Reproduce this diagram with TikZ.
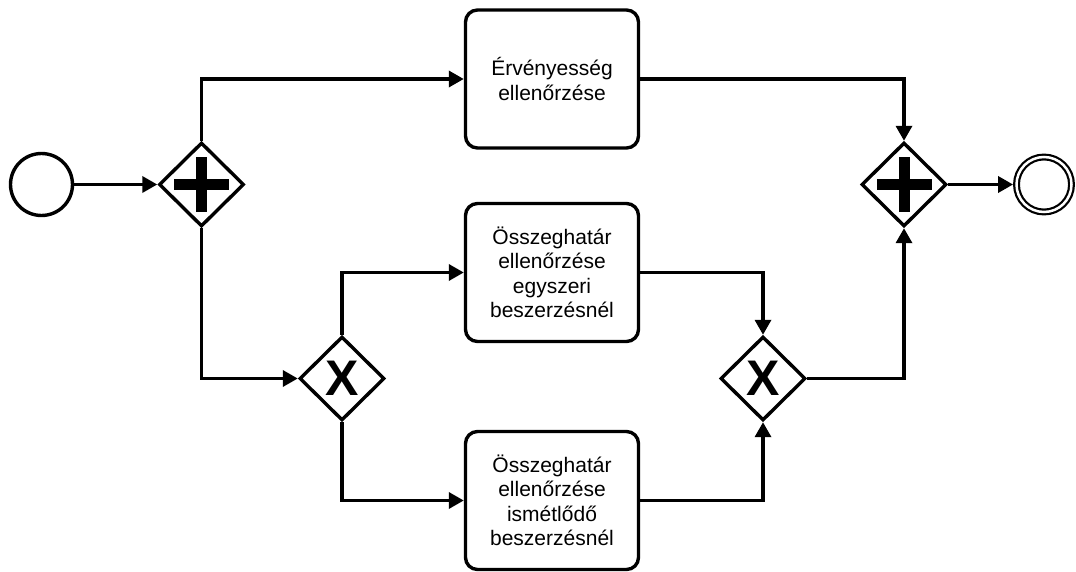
\documentclass[tikz,border=0pt]{standalone}
\usepackage{fontspec}
\setmainfont{Liberation Sans}
\usetikzlibrary{shapes.geometric,arrows.meta,calc}
\begin{document}
\begin{tikzpicture}[x=1pt,y=-1pt,
  flow/.style={line width=3.4pt,line join=miter,-{Triangle[length=15pt,width=16pt]}},
  task/.style={draw,line width=3.4pt,rounded corners=12pt,minimum width=173pt,
    minimum height=138pt,inner sep=0pt,align=center,
    font=\fontsize{21}{24.5}\selectfont},
  gateway/.style={draw,diamond,line width=3.4pt,minimum width=85pt,
    minimum height=84pt,inner sep=0pt,font=\fontsize{50}{50}\selectfont\bfseries},
  startev/.style={draw,circle,line width=3.4pt,minimum size=62pt,inner sep=0pt},
  endev/.style={draw,circle,line width=2.2pt,double,double distance=2.5pt,
    minimum size=55pt,inner sep=0pt,outer sep=3.4pt}]
% canvas
\fill[white] (0,0) rectangle (1076,572);
\useasboundingbox (0,0) rectangle (1076,572);

% events
\node[startev] (start) at (41.5,184.5) {};
\node[endev] (end) at (1044,184.5) {};

% gateways
\node[gateway] (split) at (201.5,184.5) {};
\node[gateway] (join) at (904,184.5) {};
\node[gateway] (xsplit) at (342,378.5) {X};
\node[gateway] (xjoin) at (763,378.5) {X};

% parallel markers
\foreach \g in {split,join}{
  \fill ($(\g)+(-27.5,-5.5)$) rectangle ($(\g)+(27.5,5.5)$);
  \fill ($(\g)+(-5.5,-27.5)$) rectangle ($(\g)+(5.5,27.5)$);
}

% tasks
\node[task] (valid) at (552,79) {Érvényesség\\ellenőrzése};
\node[task] (once) at (552,272.5) {Összeghatár\\ellenőrzése\\egyszeri\\beszerzésnél};
\node[task] (repeat) at (552,500.5) {Összeghatár\\ellenőrzése\\ismétlődő\\beszerzésnél};

% sequence flows
\draw[flow] (start) -- (split);
\draw[flow] (split.north) |- (valid.west);
\draw[flow] (split.south) |- (xsplit.west);
\draw[flow] (xsplit.north) |- (once.west);
\draw[flow] (xsplit.south) |- (repeat.west);
\draw[flow] (valid.east) -| (join.north);
\draw[flow] (once.east) -| (xjoin.north);
\draw[flow] (repeat.east) -| (xjoin.south);
\draw[flow] (xjoin.east) -| (join.south);
\draw[flow] (join) -- (end);
\end{tikzpicture}
\end{document}
